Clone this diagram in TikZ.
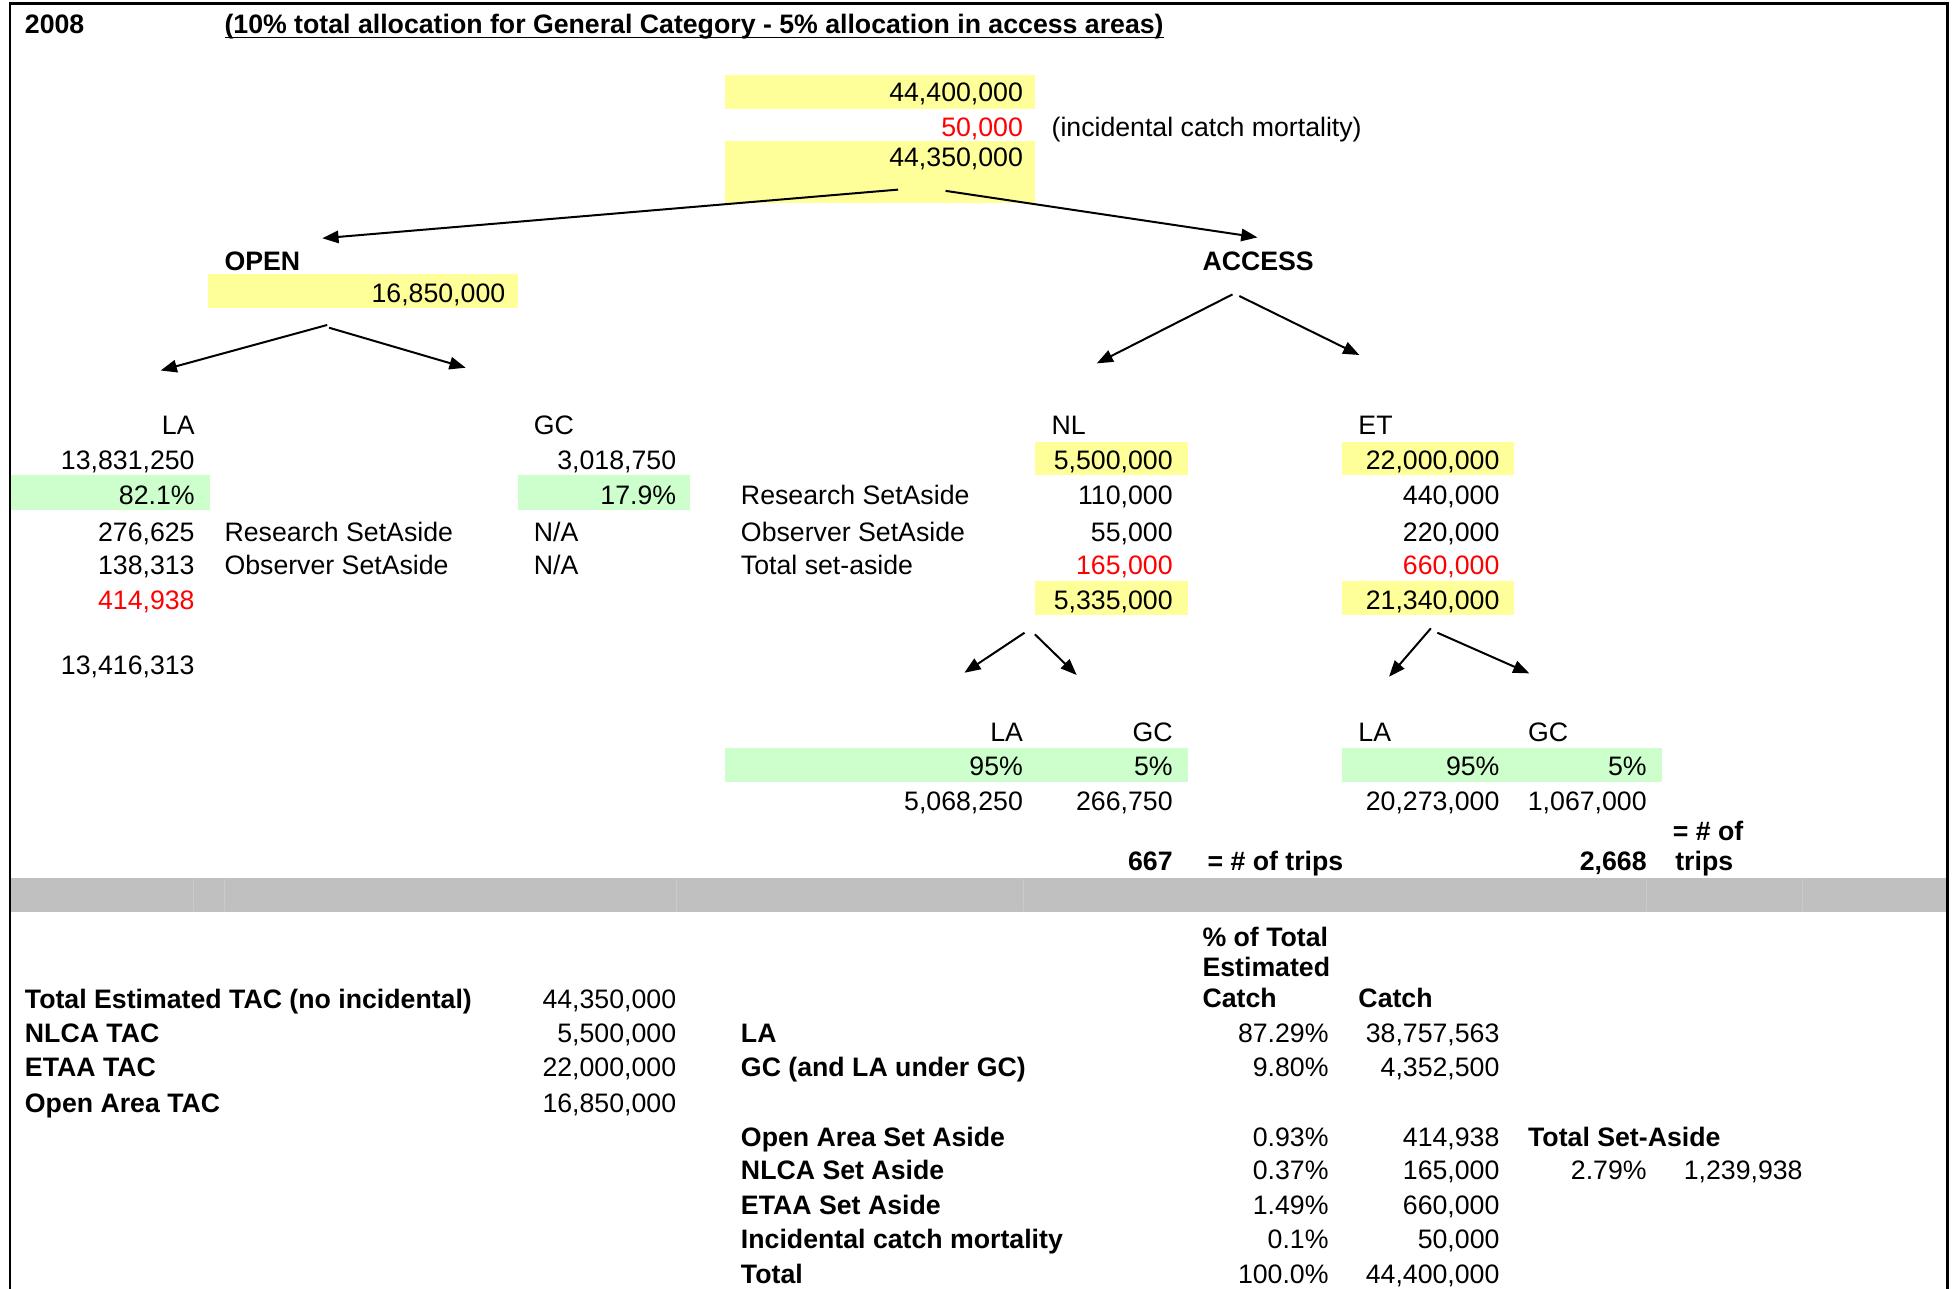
\documentclass[tikz,border=0pt]{standalone}
\usepackage{fontspec}
\setmainfont{Liberation Sans}
\usetikzlibrary{arrows.meta}
\definecolor{xyel}{HTML}{FFFF99}
\definecolor{xgrn}{HTML}{CCFFCC}
\definecolor{xgry}{HTML}{C0C0C0}
\definecolor{xgrl}{HTML}{CBCBCB}
\definecolor{xred}{HTML}{FF0000}
\newcommand\fs{\fontsize{21.4}{25}\selectfont}
\tikzset{
  txt/.style={inner sep=0pt, outer sep=0pt, font=\fs},
  rt/.style={txt, anchor=base east},
  lt/.style={txt, anchor=base west},
  bt/.style={font=\fs\bfseries},
  rd/.style={text=xred},
  yel/.style={fill=xyel},
  grn/.style={fill=xgrn},
  arr/.style={line width=1.6pt, -{Triangle[length=13pt,width=10pt]}},
}
\begin{document}
\begin{tikzpicture}[x=1pt,y=-1pt]
\useasboundingbox (0,0) rectangle (1568,1033);
% fills
\fill[yel] (581,60) rectangle (830,87);
\fill[yel] (581,113) rectangle (830,163);
\fill[yel] (167,220) rectangle (415,247);
\fill[grn] (8,381) rectangle (168,409);
\fill[grn] (415,381) rectangle (553,409);
\fill[yel] (830,354) rectangle (952,381);
\fill[yel] (1076,354) rectangle (1214,381);
\fill[yel] (830,466) rectangle (952,493);
\fill[yel] (1076,466) rectangle (1214,493);
\fill[grn] (581,600) rectangle (952,627);
\fill[grn] (1076,600) rectangle (1332,627);
\fill[xgry] (8,704) rectangle (1561,731);
\foreach \gx in {155,180,542,820,1320,1445}
  \draw[xgrl, line width=0.6pt] (\gx,705) -- (\gx,730);
% frame
\draw[line width=2.3pt] (8,1033) -- (8,3) -- (1561,3) -- (1561,1033);
% title
\node[lt,bt] (n2008) at (20,27) {2008};
\node[lt,bt] (ttl) at (180,27) {(10\% total allocation for General Category - 5\% allocation in access areas)};
\draw[line width=1.4pt] ([yshift=-3pt]ttl.base west) -- ([yshift=-3pt]ttl.base east);
% top
\node[rt] (tot1) at (820,81.7) {44,400,000};
\node[rt,rd] (inc) at (820,109.7) {50,000};
\node[lt] (incl) at (843,109.7) {(incidental catch mortality)};
\node[rt] (tot2) at (820,133.7) {44,350,000};
\node[lt,bt] (open) at (180,216.7) {OPEN};
\node[lt,bt] (access) at (964,216.7) {ACCESS};
\node[rt] (openv) at (405,242.7) {16,850,000};
% left block
\node[rt] (la1) at (156,348.7) {LA};
\node[lt] (gc1) at (428,348.7) {GC};
\node[rt] (la1v) at (156,376.7) {13,831,250};
\node[rt] (gc1v) at (542,376.7) {3,018,750};
\node[rt] (la1p) at (156,404.7) {82.1\%};
\node[rt] (gc1p) at (542,404.7) {17.9\%};
\node[rt] (la1r) at (156,433.7) {276,625};
\node[lt] (lrs) at (180,433.7) {Research SetAside};
\node[lt] (gcna1) at (428,433.7) {N/A};
\node[rt] (la1o) at (156,460.7) {138,313};
\node[lt] (los) at (180,460.7) {Observer SetAside};
\node[lt] (gcna2) at (428,460.7) {N/A};
\node[rt,rd] (la1t) at (156,488.7) {414,938};
\node[rt] (la1n) at (156,540.7) {13,416,313};
% access block
\node[lt] (nl) at (843,348.7) {NL};
\node[lt] (et) at (1089,348.7) {ET};
\node[rt] (nlv) at (940,376.7) {5,500,000};
\node[rt] (etv) at (1202,376.7) {22,000,000};
\node[lt] (mrs) at (594,404.7) {Research SetAside};
\node[rt] (nlr) at (940,404.7) {110,000};
\node[rt] (etr) at (1202,404.7) {440,000};
\node[lt] (mos) at (594,433.7) {Observer SetAside};
\node[rt] (nlo) at (940,433.7) {55,000};
\node[rt] (eto) at (1202,433.7) {220,000};
\node[lt] (mts) at (594,460.7) {Total set-aside};
\node[rt,rd] (nlt) at (940,460.7) {165,000};
\node[rt,rd] (ett) at (1202,460.7) {660,000};
\node[rt] (nln) at (940,488.7) {5,335,000};
\node[rt] (etn) at (1202,488.7) {21,340,000};
% lower split
\node[rt] (nla) at (820,594.7) {LA};
\node[rt] (ngc) at (940,594.7) {GC};
\node[lt] (ela) at (1089,594.7) {LA};
\node[lt] (egc) at (1225,594.7) {GC};
\node[rt] (nlap) at (820,621.7) {95\%};
\node[rt] (ngcp) at (940,621.7) {5\%};
\node[rt] (elap) at (1202,621.7) {95\%};
\node[rt] (egcp) at (1320,621.7) {5\%};
\node[rt] (nlaV) at (820,649.7) {5,068,250};
\node[rt] (ngcV) at (940,649.7) {266,750};
\node[rt] (elaV) at (1202,649.7) {20,273,000};
\node[rt] (egcV) at (1320,649.7) {1,067,000};
\node[lt,bt] (tripsa) at (1341,673.7) {= \# of};
\node[lt,bt] (tripsb) at (1343,697.7) {trips};
\node[rt,bt] (n667) at (940,697.7) {667};
\node[lt,bt] (trips1) at (968,697.7) {= \# of trips};
\node[rt,bt] (n2668) at (1320,697.7) {2,668};
% bottom table
\node[lt,bt] (pct1) at (964,758.7) {\% of Total};
\node[lt,bt] (pct2) at (964,782.7) {Estimated};
\node[lt,bt] (pct3) at (964,807.7) {Catch};
\node[lt,bt] (catch) at (1089,807.7) {Catch};
\node[lt,bt] (tetac) at (20,808.7) {Total Estimated TAC (no incidental)};
\node[rt] (tetacv) at (542,808.7) {44,350,000};
\node[lt,bt] (nlca) at (20,835.7) {NLCA TAC};
\node[rt] (nlcav) at (542,835.7) {5,500,000};
\node[lt,bt] (bla) at (594,835.7) {LA};
\node[rt] (blap) at (1065,835.7) {87.29\%};
\node[rt] (blav) at (1202,835.7) {38,757,563};
\node[lt,bt] (etaa) at (20,862.7) {ETAA TAC};
\node[rt] (etaav) at (542,862.7) {22,000,000};
\node[lt,bt] (bgc) at (594,862.7) {GC (and LA under GC)};
\node[rt] (bgcp) at (1065,862.7) {9.80\%};
\node[rt] (bgcv) at (1202,862.7) {4,352,500};
\node[lt,bt] (oat) at (20,891.7) {Open Area TAC};
\node[rt] (oatv) at (542,891.7) {16,850,000};
\node[lt,bt] (oas) at (594,918.7) {Open Area Set Aside};
\node[rt] (oasp) at (1065,918.7) {0.93\%};
\node[rt] (oasv) at (1202,918.7) {414,938};
\node[lt,bt] (tsa) at (1225,918.7) {Total Set-Aside};
\node[lt,bt] (nsa) at (594,945.7) {NLCA Set Aside};
\node[rt] (nsap) at (1065,945.7) {0.37\%};
\node[rt] (nsav) at (1202,945.7) {165,000};
\node[rt] (tsap) at (1320,945.7) {2.79\%};
\node[rt] (tsav) at (1445,945.7) {1,239,938};
\node[lt,bt] (esa) at (594,973.7) {ETAA Set Aside};
\node[rt] (esap) at (1065,973.7) {1.49\%};
\node[rt] (esav) at (1202,973.7) {660,000};
\node[lt,bt] (ica) at (594,1000.7) {Incidental catch mortality};
\node[rt] (icap) at (1065,1000.7) {0.1\%};
\node[rt] (icav) at (1202,1000.7) {50,000};
\node[lt,bt] (btot) at (594,1028.7) {Total};
\node[rt] (btotp) at (1065,1028.7) {100.0\%};
\node[rt] (btotv) at (1202,1028.7) {44,400,000};
% arrow end points
\coordinate (a1s) at (720,152);    \coordinate (a1e) at (258.4,191);
\coordinate (a2s) at (758,153);    \coordinate (a2e) at (1008,190.3);
\coordinate (a3s) at (262.3,260.5);\coordinate (a3e) at (128.8,297);
\coordinate (a4s) at (263.8,262.7);\coordinate (a4e) at (373.3,294.8);
\coordinate (a5s) at (988,236);    \coordinate (a5e) at (879.2,291.3);
\coordinate (a6s) at (993.5,237.3);\coordinate (a6e) at (1089.7,284.6);
\coordinate (a7s) at (821.3,507.2);\coordinate (a7e) at (773.1,539.3);
\coordinate (a8s) at (829.6,508.5);\coordinate (a8e) at (863.1,541.1);
\coordinate (a9s) at (1147,503.7); \coordinate (a9e) at (1113.5,542.5);
\coordinate (a10s) at (1152.2,507.2);\coordinate (a10e) at (1226,539.8);
\foreach \k in {1,...,10} \draw[arr] (a\k s) -- (a\k e);
\end{tikzpicture}
\end{document}
